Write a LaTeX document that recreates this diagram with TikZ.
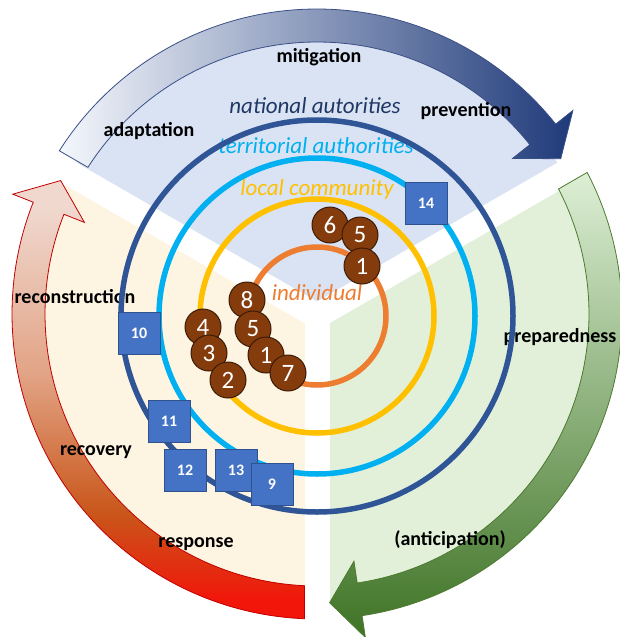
\documentclass[tikz,border=0pt]{standalone}
\usepackage{fontspec}
\setmainfont{Carlito}
\definecolor{secblue}{HTML}{DAE3F3}
\definecolor{seccream}{HTML}{FEF4E2}
\definecolor{secgreen}{HTML}{E2F0D9}
\definecolor{navyc}{HTML}{2F5597}
\definecolor{navytxt}{HTML}{203864}
\definecolor{cyanc}{HTML}{00B0F0}
\definecolor{yellowc}{HTML}{FFC000}
\definecolor{orangec}{HTML}{ED7D31}
\definecolor{badgefill}{HTML}{843C0C}
\definecolor{badgeedge}{HTML}{3B1A06}
\definecolor{boxfill}{HTML}{4472C4}
\definecolor{boxedge}{HTML}{2F528F}
\definecolor{bArrL}{HTML}{F4F7FC}
\definecolor{bArrM}{HTML}{9DB5E0}
\definecolor{bArrR}{HTML}{1F3A7A}
\definecolor{bArrE}{HTML}{3A4F86}
\definecolor{rArrT}{HTML}{F0D8CF}
\definecolor{rArrP}{HTML}{E2A486}
\definecolor{rArrM}{HTML}{C9561A}
\definecolor{rArrB}{HTML}{F2150A}
\definecolor{rArrE}{HTML}{C00000}
\definecolor{gArrT}{HTML}{DDEFD5}
\definecolor{gArrM}{HTML}{8DC06D}
\definecolor{gArrB}{HTML}{3E7325}
\definecolor{gArrE}{HTML}{4E7A30}
\pgfdeclareverticalshading{redarrshade}{100bp}{color(0bp)=(rArrB); color(27bp)=(rArrB); color(37bp)=(rArrM); color(53bp)=(rArrP); color(72bp)=(rArrT); color(100bp)=(rArrT)}
\newcommand\cycarrow[4]{(#1:305) arc[start angle=#1, end angle=#3, radius=305] -- (#3:327) -- (#4:289) -- (#3:250) -- (#3:272) arc[start angle=#3, end angle=#2, radius=272] -- cycle}
\begin{document}
\begin{tikzpicture}[x=1pt,y=-1pt,
  lbl/.style={font=\bfseries\fontsize{20}{20}\selectfont, text=black, inner sep=0pt},
  ringlbl/.style={font=\itshape\fontsize{23}{23}\selectfont, inner sep=0pt},
  badge/.style={circle, draw=badgeedge, line width=1pt, fill=badgefill, minimum size=36pt, inner sep=0pt, text=white, font=\fontsize{25}{25}\selectfont},
  numbox/.style={rectangle, draw=boxedge, line width=1pt, fill=boxfill, minimum size=42pt, inner sep=0pt, text=white, font=\bfseries\fontsize{16}{16}\selectfont},
  ringline/.style={line width=5.5pt}]
\useasboundingbox (0,0) rectangle (619,637);
% sectors
\begin{scope}[shift={(317,316)}, yscale=-1]
  \fill[secblue] (0,0) -- (30:285) arc[start angle=30, end angle=150, radius=285] -- cycle;
  \fill[seccream] (0,0) -- (150:285) arc[start angle=150, end angle=270, radius=285] -- cycle;
  \fill[secgreen] (0,0) -- (270:285) arc[start angle=270, end angle=390, radius=285] -- cycle;
  \foreach \a in {30,150,270} \draw[white, line width=25pt] (0,0) -- (\a:340);
\end{scope}
% cycle arrows
\begin{scope}[shift={(317,314)}, yscale=-1]
  \draw[draw=bArrE, line width=0.8pt, left color=bArrL, middle color=bArrM, right color=bArrR] \cycarrow{147.65}{147.37}{38.5}{32.5};
  \draw[draw=rArrE, line width=0.8pt, shading=redarrshade] \cycarrow{267.65}{267.37}{158.5}{152.5};
  \draw[draw=gArrE, line width=0.8pt, top color=gArrT, middle color=gArrM, bottom color=gArrB] \cycarrow{27.65}{27.37}{-81.5}{-87.5};
\end{scope}
% phase labels
\node[lbl] (mit) at (319,57) {mitigation};
\node[lbl] (prev) at (466,111) {prevention};
\node[lbl] (adapt) at (149,131) {adaptation};
\node[lbl] (recon) at (75,297) {reconstruction};
\node[lbl] (prep) at (560,337) {preparedness};
\node[lbl] (recov) at (96,452) {recovery};
\node[lbl] (resp) at (196,544) {response};
\node[lbl] (antic) at (450,540) {(anticipation)};
% ring labels
\node[ringlbl, text=navytxt] (natl) at (315,106) {national autorities};
\node[ringlbl, text=cyanc] (terr) at (316,146) {territorial authorities};
\node[ringlbl, text=yellowc] (loc) at (317,189) {local community};
\node[ringlbl, text=orangec] (ind) at (317,293) {individual};
% rings
\begin{scope}[shift={(317,316)}]
  \draw[ringline, navyc] (0,0) circle[radius=196];
  \draw[ringline, cyanc] (0,0) circle[radius=158];
  \draw[ringline, yellowc] (0,0) circle[radius=117];
  \draw[ringline, orangec] (0,0) circle[radius=69];
\end{scope}
% badges
\node[badge] (b6) at (330,225) {6};
\node[badge] (b5a) at (360,235) {5};
\node[badge] (b1a) at (362,266) {1};
\node[badge] (b8) at (247,300) {8};
\node[badge] (b5b) at (253,329) {5};
\node[badge] (b1b) at (266,355) {1};
\node[badge] (b7) at (288,373) {7};
\node[badge] (b4) at (203,327) {4};
\node[badge] (b3) at (209,353) {3};
\node[badge] (b2) at (228,380) {2};
% numbered boxes
\node[numbox] (n14) at (426,203) {14};
\node[numbox] (n10) at (139,333) {10};
\node[numbox] (n11) at (169,421) {11};
\node[numbox] (n12) at (185,470) {12};
\node[numbox] (n13) at (236,470) {13};
\node[numbox] (n9) at (272,484) {9};
\end{tikzpicture}
\end{document}
